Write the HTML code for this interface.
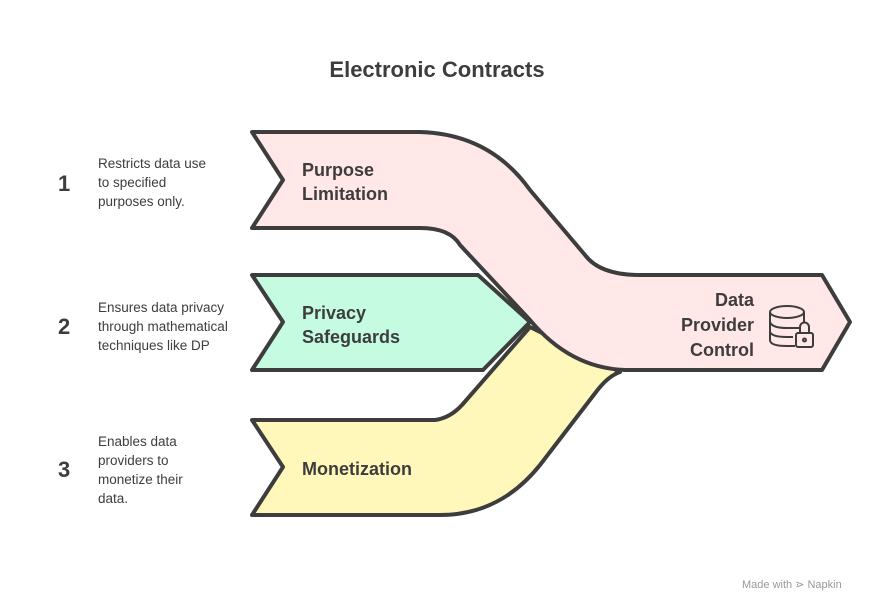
<html><head><style>body{margin:0;background:#fff;width:875px;height:612px;overflow:hidden;font-family:"Liberation Sans",sans-serif}</style></head><body>
<svg width="875" height="612" viewBox="0 0 875 612" xmlns="http://www.w3.org/2000/svg">
<g stroke="#3d3d3d" stroke-width="4" stroke-linejoin="round" stroke-linecap="round">
<path d="M252,275 L478,275 L530,322 L483,370 L252,370 L283,322 Z" fill="#c5fbe0"/>
<path d="M252,420 L435,420 Q450,418 462,405 L530,327 L620,372 Q608,376 596,392 L540,465 Q500,515 440,515 L252,515 L283,467 Z" fill="#fff8ba"/>
<path d="M252,132 L420,132 Q490,134 530,190 L585,255 Q600,275 640,275 L822,275 L850,322 L822,370 L625,370 Q570,368 530,320 L460,245 Q450,228 420,228 L252,228 L283,180 Z" fill="#ffe8e7"/>
</g>
<g fill="none" stroke="#3d3d3d" stroke-width="2">
<ellipse cx="787" cy="312" rx="17" ry="6"/>
<path d="M770,312 V340 Q770,346 787,346 L795,346 M770,322 Q772,328 787,328 L800,328 M770,332 Q772,337 787,337 L793,337 M804,312 V322"/>
<rect x="796" y="333" width="17" height="14" rx="2"/>
<path d="M800,333 V327 A4.5,4.5 0 0 1 809,327 V333"/>
<circle cx="804.5" cy="340" r="1.5"/>
</g>
<g font-family="Liberation Sans, sans-serif" fill="#3d3d3d">
<text x="437" y="77" font-size="22" font-weight="bold" text-anchor="middle">Electronic Contracts</text>
<g font-size="18" font-weight="bold">
<text x="302" y="176">Purpose</text><text x="302" y="200">Limitation</text>
<text x="302" y="319">Privacy</text><text x="302" y="343">Safeguards</text>
<text x="302" y="475">Monetization</text>
<text x="754" y="306" text-anchor="end">Data</text><text x="754" y="331" text-anchor="end">Provider</text><text x="754" y="356" text-anchor="end">Control</text>
</g>
<g font-size="22" font-weight="bold">
<text x="58" y="191">1</text><text x="58" y="334">2</text><text x="58" y="477">3</text>
</g>
<g font-size="13.5">
<text x="98" y="168">Restricts data use</text><text x="98" y="187">to specified</text><text x="98" y="206">purposes only.</text>
<text x="98" y="312">Ensures data privacy</text><text x="98" y="331">through mathematical</text><text x="98" y="350">techniques like DP</text>
<text x="98" y="446">Enables data</text><text x="98" y="465">providers to</text><text x="98" y="484">monetize their</text><text x="98" y="503">data.</text>
</g>
<text x="742" y="588" font-size="11" fill="#999">Made with ⋗ Napkin</text>
</g>
</svg>
</body></html>
